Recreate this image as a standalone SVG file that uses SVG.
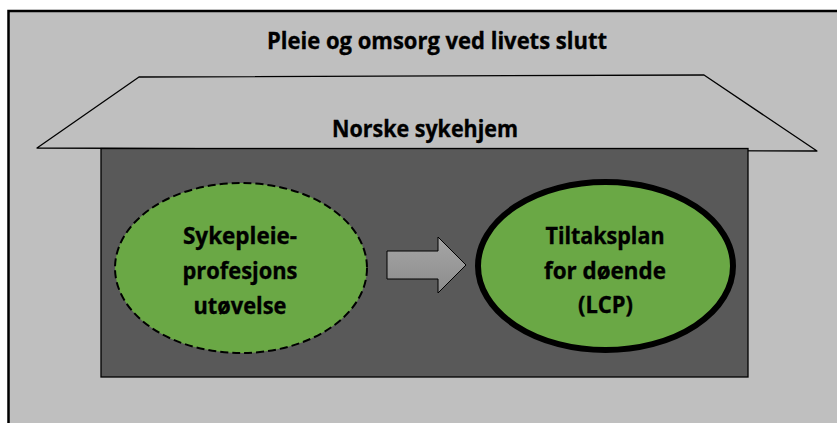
<svg xmlns="http://www.w3.org/2000/svg" width="837" height="423" viewBox="0 0 837 423">
<defs>
<linearGradient id="ag" x1="0" y1="0" x2="0" y2="1">
<stop offset="0" stop-color="#a6a6a6"/>
<stop offset="1" stop-color="#8c8c8c"/>
</linearGradient>
<style>
.t{font-family:"Open Sans","Liberation Sans",sans-serif;font-weight:bold;fill:#000;stroke:#000;stroke-width:0.35;text-anchor:middle}
.big{font-size:23px}
.node{fill:#6aa845}
</style>
</defs>
<rect x="0" y="0" width="837" height="423" fill="#fff"/>
<g id="outer">
<rect x="8.5" y="11" width="840" height="430" fill="#bfbfbf" stroke="#000" stroke-width="2.5"/>
<text class="t big" x="437" y="49" textLength="340" lengthAdjust="spacingAndGlyphs">Pleie og omsorg ved livets slutt</text>
</g>
<g id="house">
<polygon points="37,148 139,77 704,75 817,151" fill="#bfbfbf" stroke="#000" stroke-width="1.3" stroke-linejoin="round"/>
<rect x="101" y="148.5" width="647" height="228.5" fill="#595959" stroke="#000" stroke-width="1.3"/>
<text class="t big" x="425" y="137" textLength="186" lengthAdjust="spacingAndGlyphs">Norske sykehjem</text>
</g>
<g id="node1">
<ellipse class="node" cx="241" cy="268" rx="126" ry="85" stroke="#000" stroke-width="2" stroke-dasharray="8,4"/>
<text class="t big" x="240" y="244" textLength="114" lengthAdjust="spacingAndGlyphs">Sykepleie-</text>
<text class="t big" x="240" y="279" textLength="115" lengthAdjust="spacingAndGlyphs">profesjons</text>
<text class="t big" x="240" y="314" textLength="93" lengthAdjust="spacingAndGlyphs">utøvelse</text>
</g>
<g id="node2">
<ellipse class="node" cx="605.5" cy="266" rx="127.5" ry="84" stroke="#000" stroke-width="6"/>
<text class="t big" x="605" y="244" textLength="119" lengthAdjust="spacingAndGlyphs">Tiltaksplan</text>
<text class="t big" x="605" y="279" textLength="122" lengthAdjust="spacingAndGlyphs">for døende</text>
<text class="t big" x="605.5" y="313" textLength="55" lengthAdjust="spacingAndGlyphs">(LCP)</text>
</g>
<g id="connectors">
<polygon points="387,251 438,251 438,237 466,265 438,293 438,279 387,279" fill="url(#ag)" stroke="#000" stroke-width="1"/>
</g>
</svg>
